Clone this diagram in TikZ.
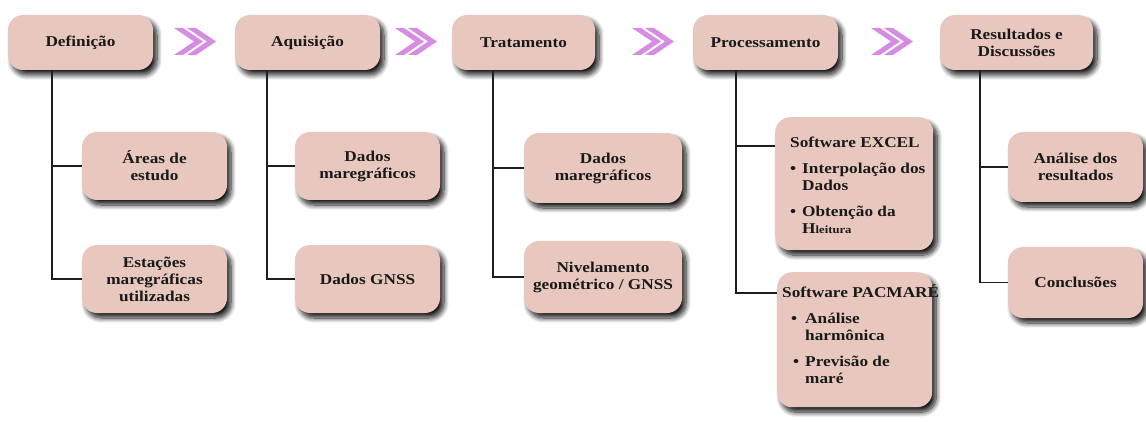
\documentclass[tikz,border=0pt]{standalone}
\usepackage{fontspec}
\setmainfont[FakeStretch=1.15]{Liberation Serif}
\usetikzlibrary{shadows.blur,calc}
\definecolor{boxfill}{RGB}{232,200,190}
\definecolor{chev}{RGB}{215,140,228}
\definecolor{linec}{RGB}{30,30,30}
\tikzset{
  boxnode/.style={rounded corners=15pt, fill=boxfill, align=center,
    font=\fontsize{15}{17}\selectfont\bfseries, text=black!90,
    blur shadow={shadow xshift=4pt, shadow yshift=-5pt, shadow blur steps=10, shadow blur radius=5pt, shadow blur extra rounding=2pt, shadow opacity=90},
    inner sep=2pt},
  conn/.style={draw=linec, line width=1.6pt},
  chevshape/.style={fill=chev, draw=none}
}
\newcommand{\chevpair}[1]{%
  \foreach \dx in {0,13}{%
    \fill[chevshape] ($(#1)+(\dx,-13.5)$) -- ++(9,0) -- ++(20,13.5) -- ++(-20,13.5) -- ++(-9,0) -- ++(20,-13.5) -- cycle;}}
\begin{document}
\begin{tikzpicture}[x=1pt,y=-1pt]
\useasboundingbox (0,0) rectangle (1146,422);
% main stages
\node[boxnode, minimum width=145pt, minimum height=55pt] (def) at (80.5,42.5) {Definição};
\node[boxnode, minimum width=145pt, minimum height=55pt] (aq) at (307.5,42.5) {Aquisição};
\node[boxnode, minimum width=143pt, minimum height=55pt] (trat) at (523.5,42.5) {Tratamento};
\node[boxnode, minimum width=145pt, minimum height=55pt] (proc) at (765.5,42.5) {Processamento};
\node[boxnode, minimum width=153pt, minimum height=55pt] (res) at (1016.5,42.5) {Resultados e\\Discussões};
% chevrons
\coordinate (c1) at (174,41.5);
\coordinate (c2) at (395,41.5);
\coordinate (c3) at (632,41.5);
\coordinate (c4) at (871,41.5);
\chevpair{c1}\chevpair{c2}\chevpair{c3}\chevpair{c4}
% children
\node[boxnode, minimum width=145pt, minimum height=68pt] (areas) at (154.5,166) {Áreas de\\estudo};
\node[boxnode, minimum width=145pt, minimum height=68pt] (est) at (154.5,279) {Estações\\maregráficas\\utilizadas};
\node[boxnode, minimum width=145pt, minimum height=68pt] (aqm) at (367.5,166) {Dados\\maregráficos};
\node[boxnode, minimum width=145pt, minimum height=68pt] (gnss) at (367.5,279) {Dados GNSS};
\node[boxnode, minimum width=158pt, minimum height=70pt] (trm) at (603,168) {Dados\\maregráficos};
\node[boxnode, minimum width=158pt, minimum height=72pt] (niv) at (603,277) {Nivelamento\\geométrico / GNSS};
\node[boxnode, minimum width=158pt, minimum height=133pt, align=left, anchor=north west, inner sep=0pt] (excel) at (775,117) {};
\node[boxnode, minimum width=155pt, minimum height=135pt, align=left, anchor=north west, inner sep=0pt] (pac) at (777,272) {};
\node[anchor=north west, inner sep=0pt, font=\fontsize{15}{17}\selectfont\bfseries, text=black!90] (excelt) at ($(excel.north west)+(15,18)$) {%
  \begin{tabular}{@{}l@{\hspace{6pt}}l@{}}
  \multicolumn{2}{@{}l@{}}{Software EXCEL}\\[9pt]
  \textbullet & Interpolação dos\\
   & Dados\\[9pt]
  \textbullet & Obtenção da\\
   & H{\fontsize{11}{12}\selectfont leitura}
  \end{tabular}};
\node[anchor=north west, inner sep=0pt, font=\fontsize{15}{17}\selectfont\bfseries, text=black!90] (pact) at ($(pac.north west)+(5,12)$) {%
  \begin{tabular}{@{}l@{\hspace{6pt}}l@{}}
  \multicolumn{2}{@{}l@{}}{Software PACMAR\symbol{"00C9}}\\[9pt]
  \hspace{9pt}\textbullet & Análise\\
   & harmônica\\[9pt]
  \hspace{11pt}\textbullet & Previsão de\\
   & maré
  \end{tabular}};
\node[boxnode, minimum width=135pt, minimum height=70pt] (anal) at (1075.5,167) {Análise dos\\resultados};
\node[boxnode, minimum width=135pt, minimum height=71pt] (conc) at (1075.5,282.5) {Conclusões};
% trunks
\coordinate (t1) at ($(def.south west)+(44,0)$);
\coordinate (t2) at ($(aq.south west)+(32,0)$);
\coordinate (t3) at ($(trat.south west)+(41,0)$);
\coordinate (t4) at ($(proc.south west)+(43,0)$);
\coordinate (t5) at ($(res.south west)+(40,0)$);
\draw[conn] (t1) |- (areas.west);
\draw[conn] (t1) |- (est.west);
\draw[conn] (t2) |- (aqm.west);
\draw[conn] (t2) |- (gnss.west);
\draw[conn] (t3) |- (trm.west);
\draw[conn] (t3) |- (niv.west);
\draw[conn] (t4) |- ($(excel.north west)+(0,29)$);
\draw[conn] (t4) |- ($(pac.north west)+(0,21)$);
\draw[conn] (t5) |- (anal.west);
\draw[conn] (t5) |- (conc.west);
\end{tikzpicture}
\end{document}
